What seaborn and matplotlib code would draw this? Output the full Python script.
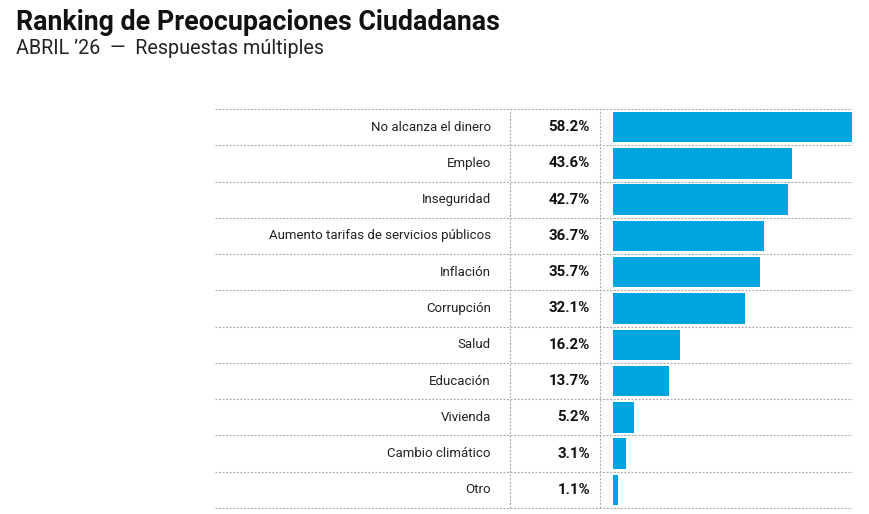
import matplotlib
matplotlib.use("Agg")
import matplotlib.pyplot as plt
import matplotlib.transforms as mtransforms
import seaborn as sns
import pandas as pd

# data
categorias = ["No alcanza el dinero", "Empleo", "Inseguridad",
              "Aumento tarifas de servicios públicos", "Inflación", "Corrupción",
              "Salud", "Educación", "Vivienda", "Cambio climático", "Otro"]
porcentajes = [58.2, 43.6, 42.7, 36.7, 35.7, 32.1, 16.2, 13.7, 5.2, 3.1, 1.1]

titulo = "Ranking de Preocupaciones Ciudadanas"
subtitulo = "ABRIL ’26  —  Respuestas múltiples"

df = pd.DataFrame({"categoria": categorias, "pct": porcentajes})

sns.set_theme(style="white")
plt.rcParams["font.family"] = ["Roboto", "DejaVu Sans"]

W, H = 870, 514
fig = plt.figure(figsize=(W / 100, H / 100), dpi=100)

# table area in pixels
left_px, right_px, top_px, bot_px = 215, 852, 109, 508
bar0_px = 613
ax = fig.add_axes([left_px / W, 1 - bot_px / H,
                   (right_px - left_px) / W, (bot_px - top_px) / H])

sns.barplot(data=df, x="pct", y="categoria", orient="h", color="#00A5E0",
            saturation=1, width=0.84, linewidth=0, ax=ax)

px_per_unit = (right_px - bar0_px) / max(porcentajes)
ax.set_xlim(-(bar0_px - left_px) / px_per_unit, max(porcentajes))
ax.set_ylim(len(categorias) - 0.5, -0.5)
ax.set_axis_off()

dot = dict(color="#ababab", linewidth=0.8, linestyle=(0, (1.8, 1.4)))
trans = mtransforms.blended_transform_factory(ax.transAxes, ax.transData)
for i in range(len(categorias) + 1):
    ax.plot([0, 1], [i - 0.5, i - 0.5], transform=trans, clip_on=False, **dot)

def fx(px):
    return (px - left_px) / (right_px - left_px)

for xv in [fx(510), fx(600)]:
    ax.plot([xv, xv], [0, 1], transform=ax.transAxes, clip_on=False, **dot)

for i, (c, v) in enumerate(zip(categorias, porcentajes)):
    ax.text(fx(491), i, c, transform=trans, ha="right", va="center",
            fontsize=9.5, color="#222222")
    ax.text(fx(590), i, f"{v:.1f}%", transform=trans, ha="right", va="center",
            fontsize=10.8, fontweight="bold", color="#111111")

fig.text(16 / W, 1 - 9 / H, titulo, ha="left", va="top",
         fontsize=19.3, fontweight="bold", color="#111111")
fig.text(16 / W, 1 - 39 / H, subtitulo, ha="left", va="top",
         fontsize=14.2, color="#222222")

fig.savefig("out.png", dpi=100)
